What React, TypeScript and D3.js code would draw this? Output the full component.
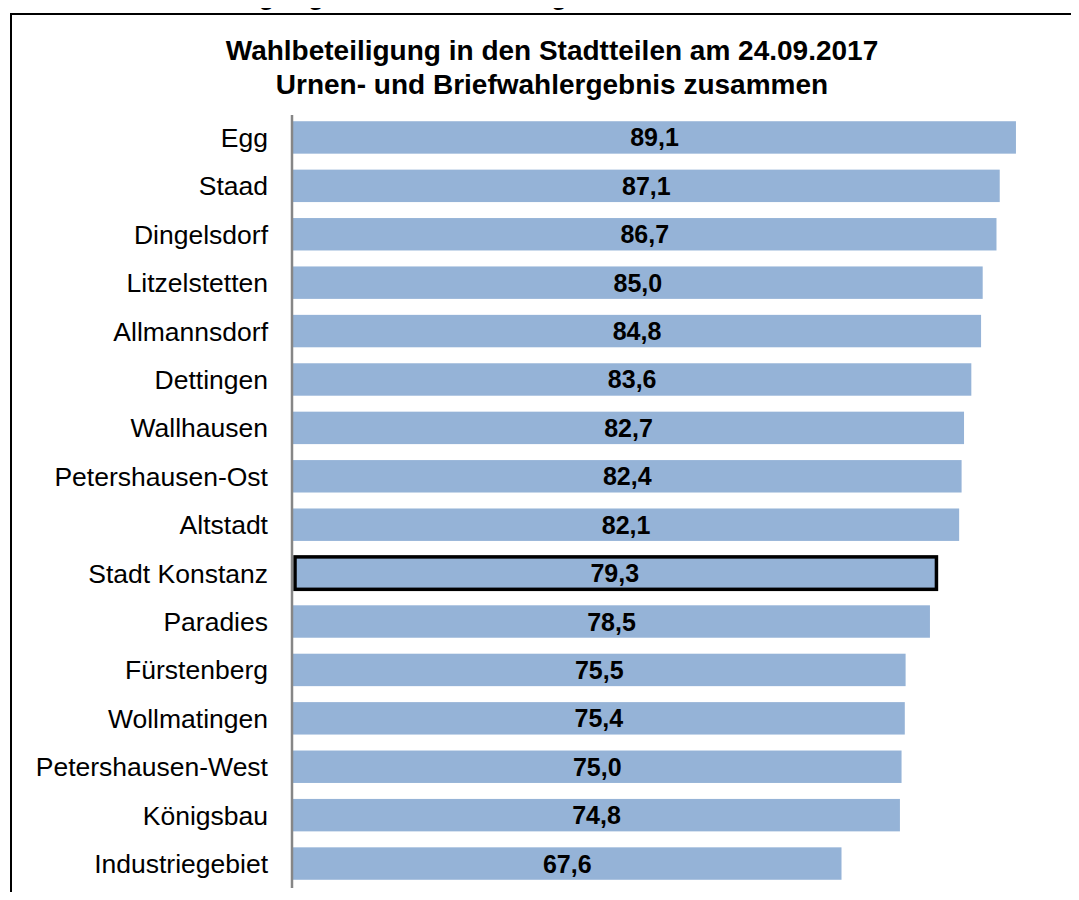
import { useEffect, useRef } from 'react';
import * as d3 from 'd3';

const districts = [
  'Egg', 'Staad', 'Dingelsdorf', 'Litzelstetten', 'Allmannsdorf', 'Dettingen',
  'Wallhausen', 'Petershausen-Ost', 'Altstadt', 'Stadt Konstanz', 'Paradies',
  'Fürstenberg', 'Wollmatingen', 'Petershausen-West', 'Königsbau', 'Industriegebiet',
];
const turnout = [89.1, 87.1, 86.7, 85.0, 84.8, 83.6, 82.7, 82.4, 82.1, 79.3, 78.5, 75.5, 75.4, 75.0, 74.8, 67.6];
const highlighted = 'Stadt Konstanz';
const titleLines = ['Wahlbeteiligung in den Stadtteilen am 24.09.2017', 'Urnen- und Briefwahlergebnis zusammen'];

const W = 1079;
const H = 900;
const FONT = 'Liberation Sans, Arial, sans-serif';

export default function App() {
  const svgRef = useRef<SVGSVGElement>(null);

  useEffect(() => {
    if (!svgRef.current) return;
    const svg = d3.select(svgRef.current);
    svg.selectAll('*').remove();

    svg.append('rect').attr('width', W).attr('height', H).attr('fill', '#fff');

    // heading of the page above the chart, cut off by the top edge
    svg.append('text')
      .attr('x', 480).attr('y', 4)
      .attr('text-anchor', 'middle')
      .attr('font-family', FONT).attr('font-weight', 'bold').attr('font-size', 27)
      .attr('fill', '#000')
      .text('Abb. 1: Wahlbeteiligung bei der Bundestagswahl 2017 in den Stadtteilen');

    // chart frame
    svg.append('rect')
      .attr('x', 11).attr('y', 14).attr('width', W + 20).attr('height', H + 20)
      .attr('fill', '#fff').attr('stroke', '#000').attr('stroke-width', 2);

    svg.append('g')
      .selectAll('text')
      .data(titleLines)
      .join('text')
      .attr('x', 552).attr('y', (_, i) => 60 + i * 34)
      .attr('text-anchor', 'middle')
      .attr('font-family', FONT).attr('font-weight', 'bold').attr('font-size', 28)
      .text((d) => d);

    const x = d3.scaleLinear().domain([0, 90]).range([293, 293 + 90 * 8.114]);
    const y = d3.scaleBand().domain(districts).range([113, 888]).paddingInner(0.33).paddingOuter(0.17);

    const rows = svg.append('g')
      .selectAll('g')
      .data(districts.map((name, i) => ({ name, value: turnout[i] })))
      .join('g');

    rows.append('rect')
      .attr('x', (d) => x(0) + (d.name === highlighted ? 2 : 0))
      .attr('y', (d) => y(d.name)!)
      .attr('width', (d) => x(d.value) - x(0) - (d.name === highlighted ? 2 : 0))
      .attr('height', y.bandwidth())
      .attr('fill', '#95b3d7')
      .attr('stroke', (d) => (d.name === highlighted ? '#000' : 'none'))
      .attr('stroke-width', 3.5);

    rows.append('text')
      .attr('x', (d) => (x(0) + x(d.value)) / 2)
      .attr('y', (d) => y(d.name)! + y.bandwidth() / 2)
      .attr('dy', '0.36em')
      .attr('text-anchor', 'middle')
      .attr('font-family', FONT).attr('font-weight', 'bold').attr('font-size', 25)
      .attr('fill', '#000')
      .text((d) => d3.format('.1f')(d.value).replace('.', ','));

    rows.append('text')
      .attr('x', 268)
      .attr('y', (d) => y(d.name)! + y.bandwidth() / 2)
      .attr('dy', '0.36em')
      .attr('text-anchor', 'end')
      .attr('font-family', FONT).attr('font-size', 26.5)
      .attr('fill', '#000')
      .text((d) => d.name);

    // category axis line
    svg.append('line')
      .attr('x1', 292).attr('x2', 292)
      .attr('y1', 115).attr('y2', 888)
      .attr('stroke', '#868686').attr('stroke-width', 2.5);
  }, []);

  return (
    <div style={{ margin: -8 }}>
      <svg ref={svgRef} width={W} height={H} style={{ display: 'block' }} />
    </div>
  );
}
